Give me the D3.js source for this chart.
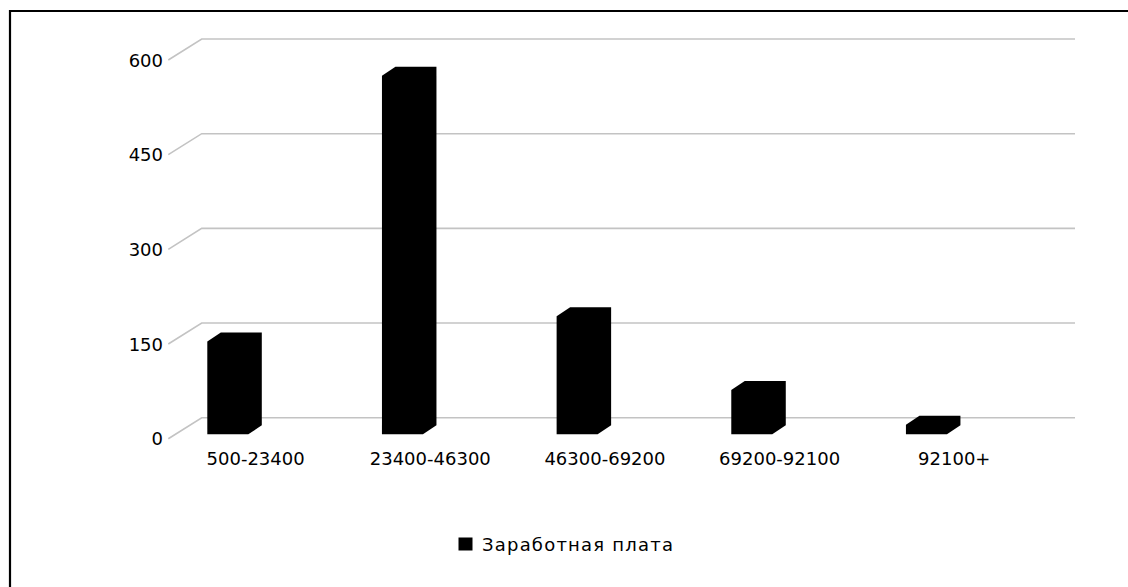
<!DOCTYPE html>
<html>
<head>
<meta charset="utf-8">
<script src="https://cdnjs.cloudflare.com/ajax/libs/d3/7.8.5/d3.min.js"></script>
<style>
  html, body { margin: 0; padding: 0; background: #ffffff; }
  svg { display: block; }
</style>
</head>
<body>
<script>
// ---- data ----
const categories = ["500-23400", "23400-46300", "46300-69200", "69200-92100", "92100+"];
const values = [147, 568, 187, 70, 15];
const seriesName = "Заработная плата";
const yTicks = [0, 150, 300, 450, 600];

// ---- layout ----
const W = 1128, H = 587;
const svg = d3.select("body").append("svg").attr("width", W).attr("height", H);

// frame
svg.append("path")
  .attr("d", `M10,${H} L10,11 L${W},11`)
  .attr("fill", "none").attr("stroke", "#000").attr("stroke-width", 2.2);

// oblique depth of the floor (front -> back)
const depthX = 33.4, depthY = -21;
const backLeft = 201.7, backRight = 1075;

// back-wall value scale
const yBack = d3.scaleLinear().domain([0, 600]).range([417.7, 39]);
// category scale along the front edge of the floor
const xFront = d3.scaleBand().domain(categories)
  .range([backLeft + -depthX, backRight - depthX]).padding(0);

// gridlines (left-wall diagonal + back wall horizontal)
const grid = svg.append("g");
grid.selectAll("path").data(yTicks).enter().append("path")
  .attr("d", d => {
    const yb = yBack(d);
    return `M${backLeft + -depthX},${yb - depthY} L${backLeft},${yb} L${backRight},${yb}`;
  })
  .attr("fill", "none").attr("stroke", "#c3c3c3").attr("stroke-width", 1.6);

// y labels
svg.append("g").selectAll("text").data(yTicks).enter().append("text")
  .attr("x", 163).attr("y", d => yBack(d) - depthY)
  .attr("text-anchor", "end").attr("dominant-baseline", "central")
  .attr("font-family", "DejaVu Sans").attr("font-size", 18).attr("fill", "#000")
  .text(d => d);

// bars (3D silhouette, all black)
const barOffset = 39, barW = 41, bdx = 13.5, bdy = -9;
const barBase = 434.3;
const yBar = d3.scaleLinear().domain([0, 600]).range([barBase, barBase - (yBack(0) - yBack(600))]);
svg.append("g").selectAll("path").data(categories).enter().append("path")
  .attr("d", (c, i) => {
    const x0 = xFront(c) + barOffset;
    const yt = yBar(values[i]);
    return `M${x0},${barBase} L${x0},${yt} L${x0 + bdx},${yt + bdy} L${x0 + barW + bdx},${yt + bdy} ` +
           `L${x0 + barW + bdx},${barBase + bdy} L${x0 + barW},${barBase} Z`;
  })
  .attr("fill", "#000");

// x labels
svg.append("g").selectAll("text").data(categories).enter().append("text")
  .attr("x", c => xFront(c) + xFront.bandwidth() / 2)
  .attr("y", 465)
  .attr("text-anchor", "middle")
  .attr("font-family", "DejaVu Sans").attr("font-size", 18).attr("fill", "#000")
  .text(c => c);

// legend
const lg = svg.append("g");
lg.append("rect").attr("x", 458.5).attr("y", 537.5).attr("width", 14).attr("height", 13).attr("fill", "#000");
lg.append("text").attr("x", 482).attr("y", 550.5)
  .attr("font-family", "DejaVu Sans").attr("font-size", 18).attr("fill", "#000")
  .attr("textLength", 191).attr("lengthAdjust", "spacing")
  .text(seriesName);
</script>
</body>
</html>
